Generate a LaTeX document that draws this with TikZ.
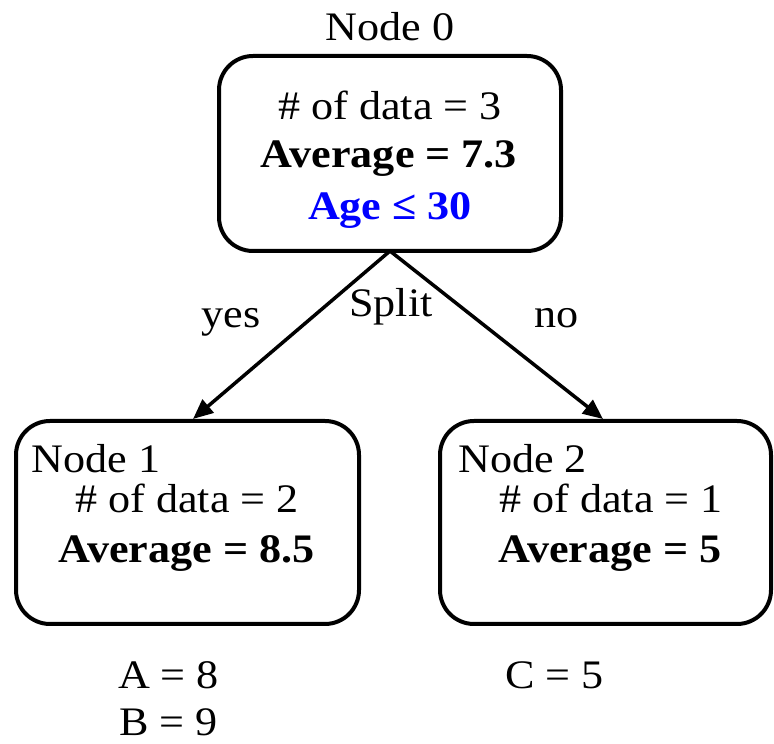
\documentclass[tikz,border=0pt]{standalone}
\usepackage{fontspec}
\setmainfont[FakeStretch=1.09]{Liberation Serif}
\usetikzlibrary{arrows.meta}
\definecolor{splitblue}{RGB}{0,0,255}
\begin{document}
\begin{tikzpicture}[x=1pt,y=1pt,
  treebox/.style={draw=black,line width=4pt,rounded corners=34pt,
    inner sep=0pt,outer sep=0pt},
  txt/.style={inner sep=0pt,anchor=base,font=\fontsize{40.5}{48}\selectfont},
  btxt/.style={txt,font=\fontsize{40.5}{48}\selectfont\bfseries},
  branch/.style={line width=3.5pt,-{Triangle[length=20pt,width=17pt]}}]
\useasboundingbox (0,0) rectangle (774,744);

% boxes
\node[treebox,minimum width=342pt,minimum height=195pt] (n0) at (390,590.5) {};
\node[treebox,minimum width=343pt,minimum height=203pt] (n1) at (187.5,221.5) {};
\node[treebox,minimum width=331pt,minimum height=203pt] (n2) at (605.5,221.5) {};

% root
\node[txt] (l0) at (390,703) {Node 0};
\node[txt] (d0) at (390,624) {\# of data = 3};
\node[btxt] (a0) at (389,576) {Average = 7.3};
\node[btxt,text=splitblue] (s0) at (390,524) {Age ≤ 30};

% left child
\node[txt] (l1) at (96,271) {Node 1};
\node[txt] (d1) at (187,231) {\# of data = 2};
\node[btxt] (a1) at (186.5,181) {Average = 8.5};

% right child
\node[txt] (l2) at (522.5,271) {Node 2};
\node[txt] (d2) at (611,231) {\# of data = 1};
\node[btxt] (a2) at (610,181) {Average = 5};

% leaf samples
\node[txt] (sa) at (168.5,55) {A = 8};
\node[txt] (sb) at (168.5,8) {B = 9};
\node[txt] (sc) at (554.5,55) {C = 5};

% branches
\coordinate (t1) at ([xshift=5.5pt,yshift=2pt]n1.north);
\coordinate (t2) at ([xshift=-2.5pt,yshift=2pt]n2.north);
\draw[branch] (n0.south) -- (t1);
\draw[branch] (n0.south) -- (t2);

\node[txt] (yes) at (231,416) {yes};
\node[txt] (split) at (391,427) {Split};
\node[txt] (no) at (556.5,416) {no};
\end{tikzpicture}
\end{document}
